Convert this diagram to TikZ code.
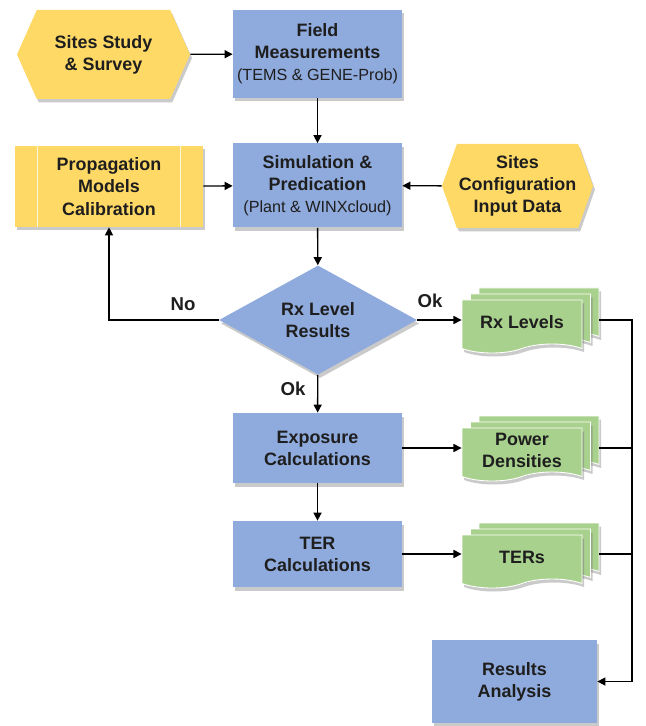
\documentclass[tikz,border=0pt]{standalone}
\usepackage{fontspec}
\setmainfont{Liberation Sans}
\usetikzlibrary{positioning, shapes.geometric, shapes.symbols, arrows.meta, shadows}

\definecolor{boxblue}{RGB}{143,170,220}
\definecolor{boxyellow}{RGB}{255,217,102}
\definecolor{boxgreen}{RGB}{169,209,142}
\definecolor{txtgray}{RGB}{30,30,30}

\newcommand{\subtxt}[1]{{\mdseries\fontsize{9.2}{12}\selectfont #1}}

\begin{document}
\begin{tikzpicture}[
    x=0.2mm, y=-0.2mm,
    every node/.style={font=\bfseries\fontsize{10.2}{12.6}\selectfont, text=txtgray, align=center},
    shade/.style={drop shadow={shadow xshift=0.4mm, shadow yshift=-0.7mm, opacity=0.35, fill=black!60}},
    process/.style={rectangle, fill=boxblue, shade, minimum width=33.8mm, inner sep=0pt},
    prep/.style={signal, signal to=west and east, fill=boxyellow, shade, inner sep=0pt},
    decision/.style={diamond, fill=boxblue, shade, minimum width=39.6mm, minimum height=20.8mm, inner sep=0pt},
    page/.style={tape, tape bend top=none, tape bend bottom=in and out, tape bend height=1.8mm,
        fill=boxgreen, draw=white, line width=0.5pt, shade, minimum width=24mm, minimum height=10.6mm, inner sep=0pt},
    arrow/.style={-{Triangle[length=4.6pt, width=4.6pt]}, thick},
    lbl/.style={font=\bfseries\fontsize{10.6}{12}\selectfont}
]
\useasboundingbox (0,0) rectangle (645,726);

% Parameters for ease of adjustments
\newcommand{\StackX}{522}
\newcommand{\PageDX}{8.5}
\newcommand{\PageDY}{6}

% Top row
\node[prep, signal pointer angle=132, minimum width=34.6mm, minimum height=17.8mm] (survey) at (103.5,54.5) {Sites Study\\\& Survey};
\node[process, minimum height=17.6mm] (field) at (317.5,54) {Field\\Measurements\\\subtxt{(TEMS \& GENE-Prob)}};

% Second row
\node[rectangle, fill=boxyellow, shade, minimum width=37.6mm, minimum height=16.2mm, inner sep=0pt] (calib) at (109,186.5) {Propagation\\Models\\Calibration};
\draw[white!75!boxyellow, line width=0.8pt] ([xshift=4.6mm]calib.north west) -- ([xshift=4.6mm]calib.south west)
    ([xshift=-4.6mm]calib.north east) -- ([xshift=-4.6mm]calib.south east);
\node[process, minimum height=16.8mm] (sim) at (317.5,185.5) {Simulation \&\\Predication\\\subtxt{(Plant \& WINXcloud)}};
\node[prep, signal pointer angle=141, minimum width=30.2mm, minimum height=16.8mm] (config) at (517.5,186) {Sites\\Configuration\\Input Data};

% Decision and calculation column
\node[decision] (dec) at (318,320) {Rx Level\\Results};
\node[process, minimum height=14mm] (expo) at (317.5,448) {Exposure\\Calculations};
\node[process, minimum height=13.2mm] (ter) at (317.5,554) {TER\\Calculations};
\node[process, minimum width=33mm, minimum height=16.6mm] (result) at (514.5,681.5) {Results\\Analysis};

% Draw stacked documents, back pages first
\foreach \n/\y/\t in {rx/322/{Rx Levels}, pd/450/{Power\\Densities}, td/557/{TERs}}{
    \foreach \k in {2,1}{
        \node[page] (\n-\k) at (\StackX+\k*\PageDX, \y-\k*\PageDY) {};
    }
    \node[page] (\n) at (\StackX,\y) {\t};
}

% Labels on the decision branches
\node[lbl] (no) at (183,304) {No};
\node[lbl] (okr) at (430,301) {Ok};
\node[lbl] (okd) at (293,389) {Ok};

% Draw main flow
\draw[arrow] (survey) -- (field);
\draw[arrow] (field) -- (sim);
\draw[arrow] (calib) -- (sim);
\draw[arrow] (config) -- (sim);
\draw[arrow] (sim) -- (dec);
\draw[arrow] (dec.west) -| (calib.south);
\draw[arrow] (dec.east) -- (dec.east -| rx.west);
\draw[arrow] (dec) -- (expo);
\draw[arrow] (expo.east) -- (expo.east -| pd.west);
\draw[arrow] (expo) -- (ter);
\draw[arrow] (ter.east) -- (ter.east -| td.west);

% Draw collecting line to the results
\coordinate (bus) at (632,0);
\draw[arrow] (rx-2.east |- dec.east) -- (bus |- dec.east) |- (result.east);
\draw[thick] (pd-2.east |- expo.east) -- (bus |- expo.east);
\draw[thick] (td-2.east |- ter.east) -- (bus |- ter.east);

\end{tikzpicture}
\end{document}
